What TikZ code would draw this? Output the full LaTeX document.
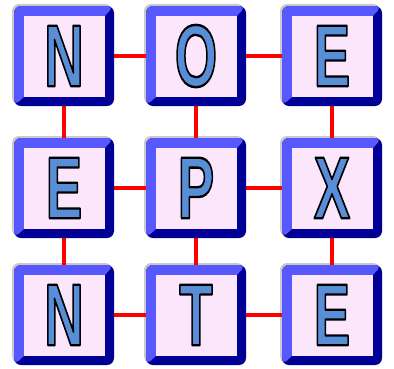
\documentclass[tikz,border=0pt]{standalone}
\usepackage{fontspec}
\setmainfont{Liberation Sans}
\usetikzlibrary{shadows}
\definecolor{tilelight}{RGB}{88,88,255}
\definecolor{tiledark}{RGB}{0,0,150}
\definecolor{tilepink}{RGB}{252,230,252}
\definecolor{letterblue}{RGB}{88,142,216}
% filled letter with a black outline
\newcommand{\tileletter}[1]{\scalebox{0.62}[1]{\color{letterblue}\special{pdf:literal direct 0 G 2.4 w 1 j 2 Tr}#1\special{pdf:literal direct 0 Tr}}}
\tikzset{
  tile/.style={minimum width=100pt,minimum height=100pt,inner sep=0pt,
    rounded corners=7pt,fill=tiledark,
    drop shadow={shadow xshift=-2pt,shadow yshift=2pt,fill=gray!60,opacity=0.7},
    font=\fontsize{88}{88}\bfseries,
    path picture={
      \fill[tilelight] (path picture bounding box.north west) -- (path picture bounding box.north east)
        -- ([shift={(-9pt,-10pt)}]path picture bounding box.north east)
        -- ([shift={(10pt,9pt)}]path picture bounding box.south west)
        -- (path picture bounding box.south west) -- cycle;
      \fill[tilepink,sharp corners] ([shift={(10pt,9pt)}]path picture bounding box.south west)
        rectangle ([shift={(-9pt,-10pt)}]path picture bounding box.north east);
    }},
  link/.style={red,line width=3.2pt}
}
\begin{document}
\begin{tikzpicture}
\useasboundingbox (0,0) rectangle (394pt,-368pt);
\node[tile] (n1) at (64pt,-56pt) {\tileletter{N}};
\node[tile] (o1) at (196pt,-56pt) {\tileletter{O}};
\node[tile] (e1) at (332pt,-56pt) {\tileletter{E}};
\node[tile] (e2) at (64pt,-188pt) {\tileletter{E}};
\node[tile] (p2) at (196pt,-188pt) {\tileletter{P}};
\node[tile] (x2) at (332pt,-188pt) {\tileletter{X}};
\node[tile] (n3) at (64pt,-315pt) {\tileletter{N}};
\node[tile] (t3) at (196pt,-315pt) {\tileletter{T}};
\node[tile] (e3) at (332pt,-315pt) {\tileletter{E}};
% rows
\draw[link] (n1) -- (o1);
\draw[link] (o1) -- (e1);
\draw[link] (e2) -- (p2);
\draw[link] (p2) -- (x2);
\draw[link] (n3) -- (t3);
\draw[link] (t3) -- (e3);
% columns
\draw[link] (n1) -- (e2);
\draw[link] (e2) -- (n3);
\draw[link] (o1) -- (p2);
\draw[link] (p2) -- (t3);
\draw[link] (e1) -- (x2);
\draw[link] (x2) -- (e3);
\end{tikzpicture}
\end{document}
